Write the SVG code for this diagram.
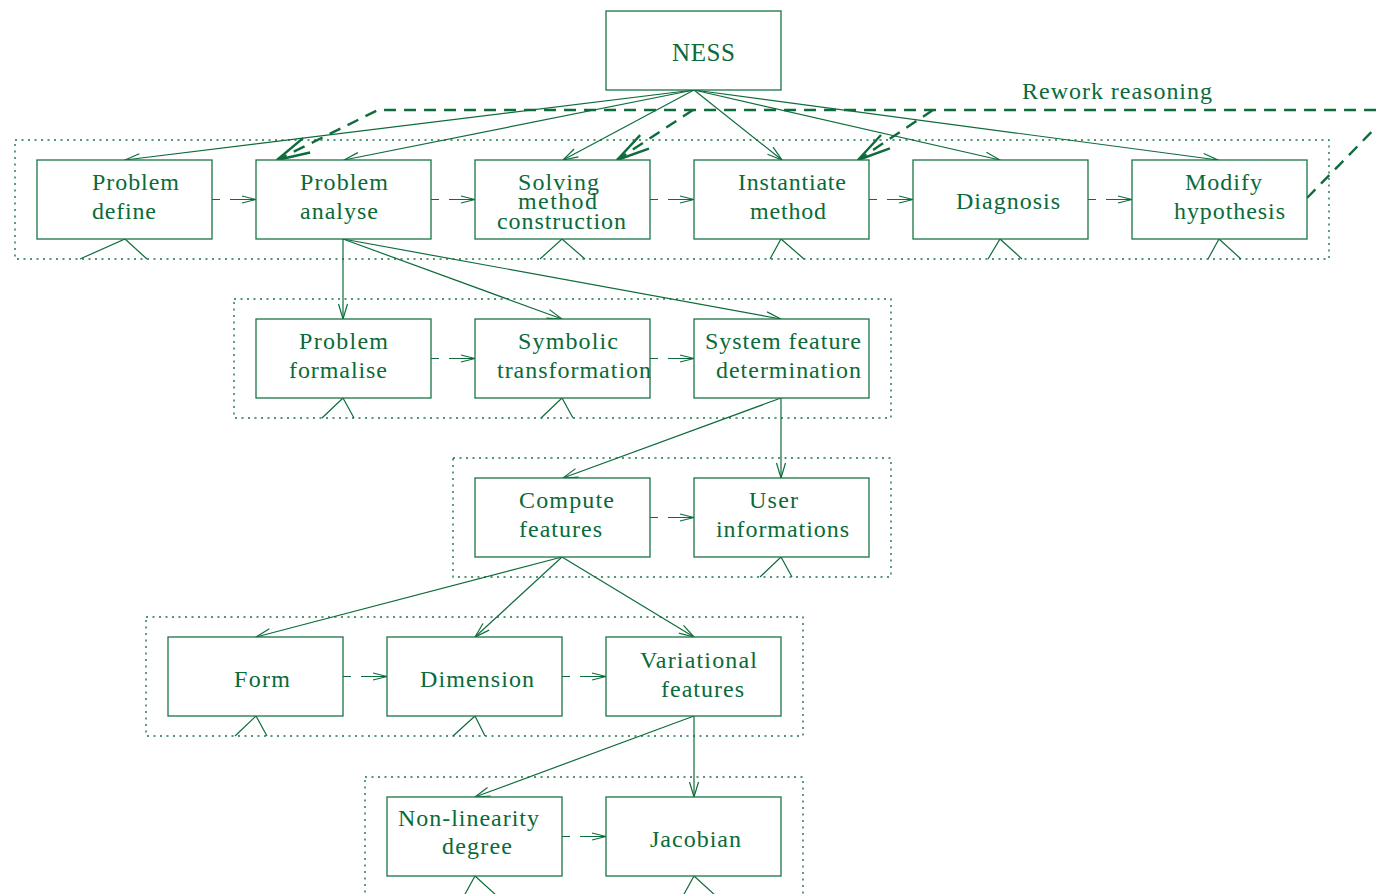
<svg xmlns="http://www.w3.org/2000/svg" width="1376" height="894" viewBox="0 0 1376 894">
  <defs>
    <style>
      .box { fill: #ffffff; stroke: #1a7446; stroke-width: 1.3; }
      .grp { fill: none; stroke: #1a7446; stroke-width: 1.4; stroke-dasharray: 2 4.5; }
      .t { font-family: "Liberation Serif", "Times New Roman", serif; font-size: 24px; fill: #0a6a3a; }
      .c { fill: none; stroke: #0e6c3c; stroke-width: 1.2; }
      .d { fill: none; stroke: #0e6c3c; stroke-width: 1.2; }
      .rw { fill: none; stroke: #0e6c3c; stroke-width: 2.4; stroke-dasharray: 12 8; }
    </style>
    <!-- thin open arrowhead for solid links -->
    <marker id="a" viewBox="-17 -6 19 12" markerWidth="19" markerHeight="12" markerUnits="userSpaceOnUse" refX="0" refY="0" orient="auto" overflow="visible">
      <path d="M-15,-4.5 L0,0 L-15,4.5" fill="none" stroke="#0e6c3c" stroke-width="1.2" stroke-dasharray="none"/>
    </marker>
    <!-- small open arrowhead for dashed sequence links -->
    <marker id="s" viewBox="-15 -5 16 10" markerWidth="16" markerHeight="10" markerUnits="userSpaceOnUse" refX="0" refY="0" orient="auto" overflow="visible">
      <path d="M-14,-3.5 L0,0 L-14,3.5" fill="none" stroke="#0e6c3c" stroke-width="1.2" stroke-dasharray="none"/>
    </marker>
    <!-- heavy open arrowhead for the rework loop -->
    <marker id="r" viewBox="-36 -10 38 20" markerWidth="38" markerHeight="20" markerUnits="userSpaceOnUse" refX="0" refY="0" orient="auto" overflow="visible">
      <path d="M-33,-8 L0,0 L-33,8" fill="none" stroke="#0e6c3c" stroke-width="2.4" stroke-dasharray="none"/>
    </marker>
  </defs>

  <rect width="1376" height="894" fill="#ffffff"/>

  <!-- grouping frames -->
  <g id="frames">
    <rect class="grp" x="15" y="140" width="1314" height="119"/>
    <rect class="grp" x="234" y="299" width="657" height="119"/>
    <rect class="grp" x="453" y="458" width="438" height="119"/>
    <rect class="grp" x="146" y="617" width="657" height="119"/>
    <rect class="grp" x="365" y="777" width="438" height="130"/>
  </g>

  <!-- connectors -->
  <g id="connectors">
    <!-- NESS to first-level tasks -->
    <path class="c" d="M694,90 L125,160" marker-end="url(#a)"/>
    <path class="c" d="M694,90 L344,160" marker-end="url(#a)"/>
    <path class="c" d="M694,90 L563,160" marker-end="url(#a)"/>
    <path class="c" d="M694,90 L782,160" marker-end="url(#a)"/>
    <path class="c" d="M694,90 L1000,160" marker-end="url(#a)"/>
    <path class="c" d="M694,90 L1218,160" marker-end="url(#a)"/>
    <!-- Problem analyse decomposition -->
    <path class="c" d="M343,239 L343,319" marker-end="url(#a)"/>
    <path class="c" d="M343,239 L562,319" marker-end="url(#a)"/>
    <path class="c" d="M343,239 L781,319" marker-end="url(#a)"/>
    <!-- System feature determination decomposition -->
    <path class="c" d="M781,398 L563,478" marker-end="url(#a)"/>
    <path class="c" d="M781,398 L781,478" marker-end="url(#a)"/>
    <!-- Compute features decomposition -->
    <path class="c" d="M562,557 L256,637" marker-end="url(#a)"/>
    <path class="c" d="M562,557 L475,637" marker-end="url(#a)"/>
    <path class="c" d="M562,557 L694,637" marker-end="url(#a)"/>
    <!-- Variational features decomposition -->
    <path class="c" d="M694,716 L475,797" marker-end="url(#a)"/>
    <path class="c" d="M694,716 L694,797" marker-end="url(#a)"/>

    <!-- sequence links -->
    <path class="d" d="M212,199.5 h8 M230,199.5 H256" marker-end="url(#s)"/>
    <path class="d" d="M431,199.5 h8 M449,199.5 H475" marker-end="url(#s)"/>
    <path class="d" d="M650,199.5 h8 M668,199.5 H694" marker-end="url(#s)"/>
    <path class="d" d="M869,199.5 h8 M887,199.5 H913" marker-end="url(#s)"/>
    <path class="d" d="M1088,199.5 h8 M1106,199.5 H1132" marker-end="url(#s)"/>
    <path class="d" d="M431,358.5 h8 M449,358.5 H475" marker-end="url(#s)"/>
    <path class="d" d="M650,358.5 h8 M668,358.5 H694" marker-end="url(#s)"/>
    <path class="d" d="M650,517.5 h8 M668,517.5 H694" marker-end="url(#s)"/>
    <path class="d" d="M343,676.5 h8 M361,676.5 H387" marker-end="url(#s)"/>
    <path class="d" d="M562,676.5 h8 M580,676.5 H606" marker-end="url(#s)"/>
    <path class="d" d="M562,836.5 h8 M580,836.5 H606" marker-end="url(#s)"/>

    <!-- stubs below leaf tasks -->
    <path class="c" d="M80,259 L125,239 L147,259"/>
    <path class="c" d="M540,259 L562,239 L585,259"/>
    <path class="c" d="M770,259 L781,239 L804,259"/>
    <path class="c" d="M988,259 L1000,239 L1022,259"/>
    <path class="c" d="M1208,259 L1219,239 L1241,259"/>
    <path class="c" d="M322,418 L343,398 L354,418"/>
    <path class="c" d="M541,418 L562,398 L573,418"/>
    <path class="c" d="M760,577 L781,557 L792,577"/>
    <path class="c" d="M235,736 L256,716 L267,736"/>
    <path class="c" d="M453,736 L475,716 L485,736"/>
    <path class="c" d="M464,896 L475,876 L497,896"/>
    <path class="c" d="M683,896 L694,876 L716,896"/>

    <!-- rework loop -->
    <path class="rw" d="M1307,198 L1393,110 L378,110 L277,160" marker-end="url(#r)"/>
    <path class="rw" d="M693,110 L617,160" marker-end="url(#r)"/>
    <path class="rw" d="M933,110 L858,160" marker-end="url(#r)"/>
  </g>

  <text class="t" x="1022" y="99" textLength="190">Rework reasoning</text>

  <!-- nodes -->
  <g id="ness">
    <rect class="box" x="606" y="11" width="175" height="79"/>
    <text class="t" x="672" y="61" style="font-size:25px" textLength="63">NESS</text>
  </g>
  <g id="problem-define">
    <rect class="box" x="37" y="160" width="175" height="79"/>
    <text class="t" x="92" y="190" textLength="87">Problem</text>
    <text class="t" x="92" y="219" textLength="64">define</text>
  </g>
  <g id="problem-analyse">
    <rect class="box" x="256" y="160" width="175" height="79"/>
    <text class="t" x="300" y="190" textLength="88">Problem</text>
    <text class="t" x="300" y="219" textLength="78">analyse</text>
  </g>
  <g id="solving-method">
    <rect class="box" x="475" y="160" width="175" height="79"/>
    <text class="t" x="518" y="190" textLength="81">Solving</text>
    <text class="t" x="518" y="209" textLength="79">method</text>
    <text class="t" x="497" y="229" textLength="129">construction</text>
  </g>
  <g id="instantiate">
    <rect class="box" x="694" y="160" width="175" height="79"/>
    <text class="t" x="738" y="190" textLength="108">Instantiate</text>
    <text class="t" x="750" y="219" textLength="76">method</text>
  </g>
  <g id="diagnosis">
    <rect class="box" x="913" y="160" width="175" height="79"/>
    <text class="t" x="956" y="209" textLength="104">Diagnosis</text>
  </g>
  <g id="modify">
    <rect class="box" x="1132" y="160" width="175" height="79"/>
    <text class="t" x="1185" y="190" textLength="77">Modify</text>
    <text class="t" x="1174" y="219" textLength="111">hypothesis</text>
  </g>
  <g id="problem-formalise">
    <rect class="box" x="256" y="319" width="175" height="79"/>
    <text class="t" x="299" y="349" textLength="89">Problem</text>
    <text class="t" x="289" y="378" textLength="98">formalise</text>
  </g>
  <g id="symbolic">
    <rect class="box" x="475" y="319" width="175" height="79"/>
    <text class="t" x="518" y="349" textLength="100">Symbolic</text>
    <text class="t" x="497" y="378" textLength="154">transformation</text>
  </g>
  <g id="system-feature">
    <rect class="box" x="694" y="319" width="175" height="79"/>
    <text class="t" x="705" y="349" textLength="156">System feature</text>
    <text class="t" x="716" y="378" textLength="145">determination</text>
  </g>
  <g id="compute-features">
    <rect class="box" x="475" y="478" width="175" height="79"/>
    <text class="t" x="519" y="508" textLength="95">Compute</text>
    <text class="t" x="519" y="537" textLength="83">features</text>
  </g>
  <g id="user-informations">
    <rect class="box" x="694" y="478" width="175" height="79"/>
    <text class="t" x="749" y="508" textLength="49">User</text>
    <text class="t" x="716" y="537" textLength="133">informations</text>
  </g>
  <g id="form">
    <rect class="box" x="168" y="637" width="175" height="79"/>
    <text class="t" x="234" y="687" textLength="56">Form</text>
  </g>
  <g id="dimension">
    <rect class="box" x="387" y="637" width="175" height="79"/>
    <text class="t" x="420" y="687" textLength="114">Dimension</text>
  </g>
  <g id="variational">
    <rect class="box" x="606" y="637" width="175" height="79"/>
    <text class="t" x="640" y="668" textLength="117">Variational</text>
    <text class="t" x="661" y="697" textLength="83">features</text>
  </g>
  <g id="non-linearity">
    <rect class="box" x="387" y="797" width="175" height="79"/>
    <text class="t" x="398" y="826" textLength="141">Non-linearity</text>
    <text class="t" x="442" y="854" textLength="70">degree</text>
  </g>
  <g id="jacobian">
    <rect class="box" x="606" y="797" width="175" height="79"/>
    <text class="t" x="650" y="847" textLength="91">Jacobian</text>
  </g>
</svg>
